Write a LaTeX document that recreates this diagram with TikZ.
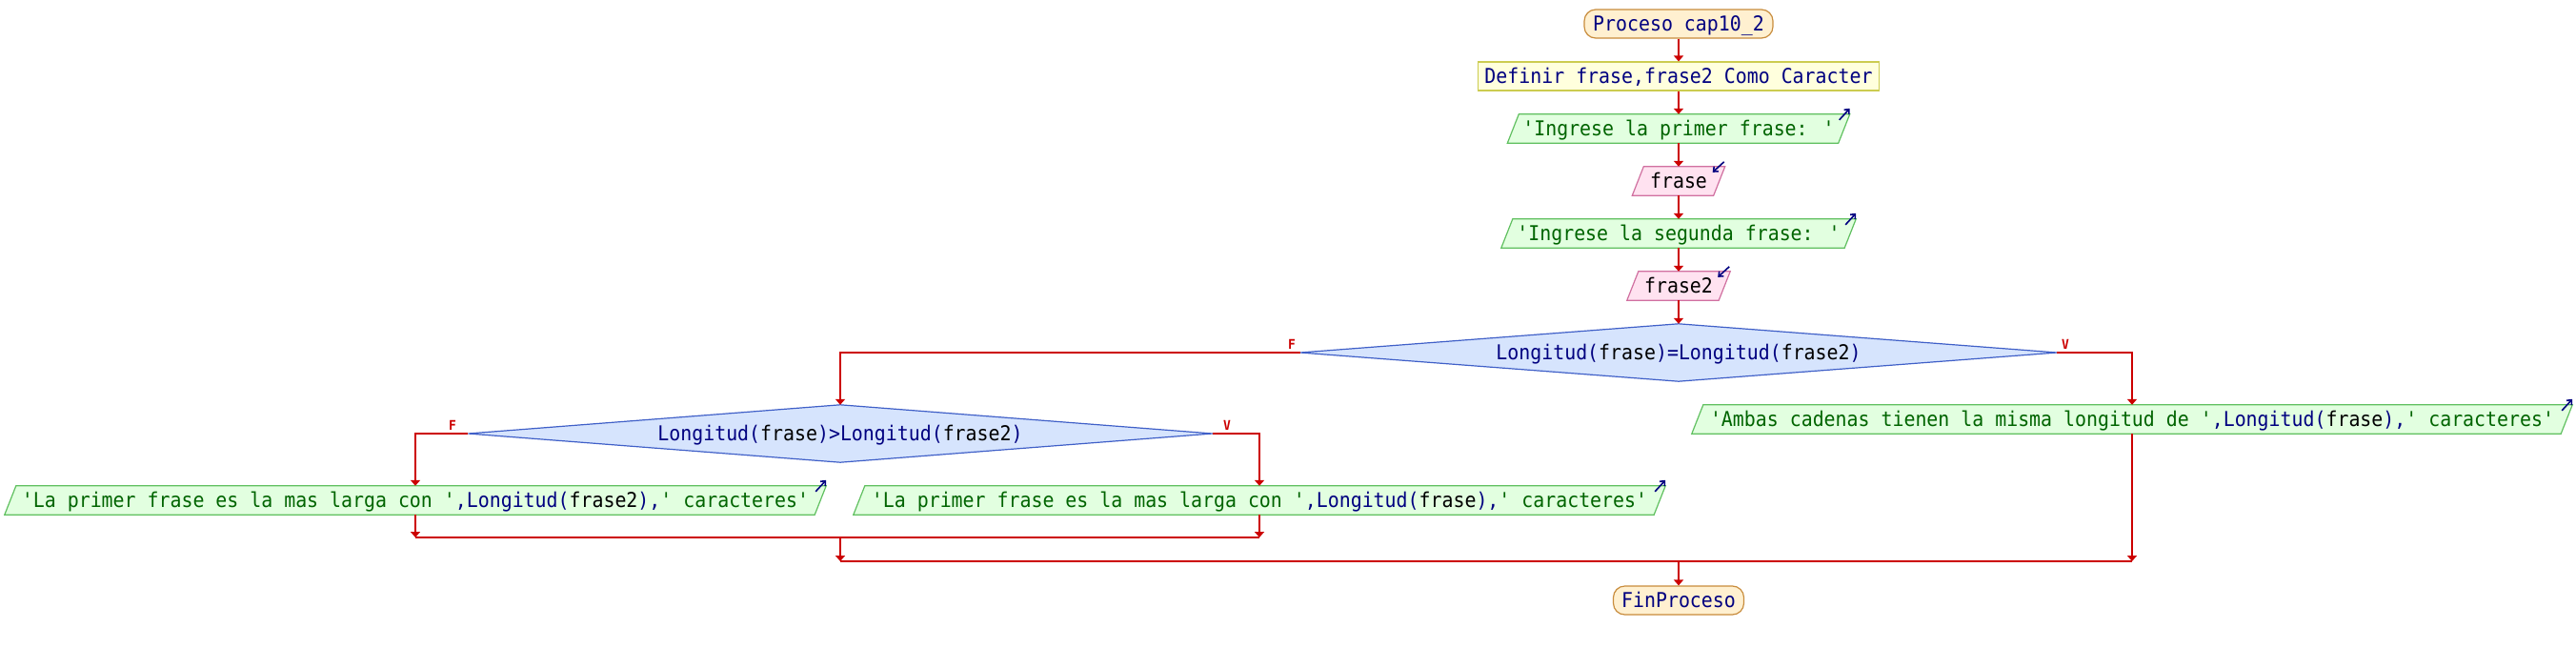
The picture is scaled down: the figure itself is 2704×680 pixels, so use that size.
\documentclass[tikz,border=0pt]{standalone}
\usepackage{fontspec}
\newfontfamily\pmono[FakeStretch=0.925]{DejaVu Sans Mono}
\usetikzlibrary{calc,arrows.meta,backgrounds}
\definecolor{cred}{RGB}{204,0,0}
\definecolor{cnavy}{RGB}{0,0,128}
\definecolor{cgreen}{RGB}{0,100,0}
\definecolor{termfill}{RGB}{255,240,208}
\definecolor{termdraw}{RGB}{200,140,60}
\definecolor{deffill}{RGB}{255,255,221}
\definecolor{defdraw}{RGB}{204,204,80}
\definecolor{outfill}{RGB}{226,255,224}
\definecolor{outdraw}{RGB}{96,192,96}
\definecolor{infill}{RGB}{255,226,240}
\definecolor{indraw}{RGB}{208,112,160}
\definecolor{decfill}{RGB}{214,228,253}
\definecolor{decdraw}{RGB}{64,96,200}
\newcommand\pkw[1]{\textcolor{cnavy}{#1}}
\newcommand\pstr[1]{\textcolor{cgreen}{#1}}
\newcommand\pvar[1]{\textcolor{black}{#1}}
\begin{document}
\begin{tikzpicture}[x=1pt,y=-1pt,
  every node/.style={font={\pmono\fontsize{21.5}{21.5}\selectfont}, inner sep=0pt, text height=16pt, text depth=2pt},
  box/.style={shape=rectangle, minimum height=30pt},
  term/.style={box, draw=termdraw, fill=termfill, rounded corners=12pt, line width=1.2pt},
  defbox/.style={box, draw=defdraw, fill=deffill, line width=1.2pt},
  outshape/.style={draw=outdraw, fill=outfill, line width=1.2pt},
  inshape/.style={draw=indraw, fill=infill, line width=1.2pt},
  decshape/.style={draw=decdraw, fill=decfill, line width=1.2pt},
  dec/.style={shape=rectangle, minimum height=60pt},
  flow/.style={draw=cred, line width=2pt, -{Triangle[width=10pt,length=6pt]}},
  link/.style={draw=cred, line width=2pt},
  icon/.style={draw=cnavy, line width=1.6pt, -{Straight Barb[width=7pt,length=4pt]}},
  lab/.style={text=cred, font={\pmono\bfseries\fontsize{14}{14}\selectfont}, text height=10pt, text depth=0pt}]

\useasboundingbox (0,0) rectangle (2704,680);

% nodes
\node[term, minimum width=198pt] (start) at (1762,25) {\pkw{Proceso cap10\_2}};
\node[defbox, minimum width=421pt] (def) at (1762,80) {\pkw{Definir frase,frase2 Como Caracter}};
\node[box, minimum width=359pt] (o1) at (1762,135) {\pstr{'Ingrese la primer frase: '}};
\node[box, minimum width=97pt] (i1) at (1762,190) {\pvar{frase}};
\node[box, minimum width=372pt] (o2) at (1762,245) {\pstr{'Ingrese la segunda frase: '}};
\node[box, minimum width=108pt] (i2) at (1762,300) {\pvar{frase2}};
\node[dec, minimum width=794pt] (d1) at (1762,370) {\pkw{Longitud(}\pvar{frase}\pkw{)=Longitud(}\pvar{frase2}\pkw{)}};
\node[dec, minimum width=781pt] (d2) at (882,455) {\pkw{Longitud(}\pvar{frase}\pkw{)>Longitud(}\pvar{frase2}\pkw{)}};
\node[box, minimum width=924pt] (oR) at (2238,440) {\pstr{'Ambas cadenas tienen la misma longitud de '}\pkw{,Longitud(}\pvar{frase}\pkw{),}\pstr{' caracteres'}};
\node[box, minimum width=862pt] (oL) at (436,525) {\pstr{'La primer frase es la mas larga con '}\pkw{,Longitud(}\pvar{frase2}\pkw{),}\pstr{' caracteres'}};
\node[box, minimum width=852pt] (oM) at (1322,525) {\pstr{'La primer frase es la mas larga con '}\pkw{,Longitud(}\pvar{frase}\pkw{),}\pstr{' caracteres'}};
\node[term, minimum width=137pt] (end) at (1762,630) {\pkw{FinProceso}};

% branch labels
\node[lab] (f1) at (1356,361) {F};
\node[lab] (v1) at (2168,361) {V};
\node[lab] (f2) at (475,446) {F};
\node[lab] (v2) at (1288,446) {V};

% shapes behind text
\begin{pgfonlayer}{background}
  \fill[white] (0,0) rectangle (2704,680);
  \foreach \n in {o1,o2,oR,oL,oM}
    \draw[outshape] (\n.south west) -- ($(\n.north west)+(12,0)$) -- (\n.north east) -- ($(\n.south east)+(-12,0)$) -- cycle;
  \foreach \n in {i1,i2}
    \draw[inshape] (\n.south west) -- ($(\n.north west)+(12,0)$) -- (\n.north east) -- ($(\n.south east)+(-12,0)$) -- cycle;
  \foreach \n in {d1,d2}
    \draw[decshape] (\n.west) -- (\n.north) -- (\n.east) -- (\n.south) -- cycle;
\end{pgfonlayer}

% io icons
\foreach \n in {o1,o2,oR,oL,oM}
  \draw[icon] ($(\n.north east)+(-11,6)$) -- ($(\n.north east)+(0,-6)$);
\foreach \n in {i1,i2}
  \draw[icon] ($(\n.north east)+(-1,-5)$) -- ($(\n.north east)+(-13,6)$);

% junction points
\coordinate (j1) at (882,564);
\coordinate (j2) at (1762,589);

% connectors
\draw[flow] (start.south) -- (def.north);
\draw[flow] (def.south) -- (o1.north);
\draw[flow] (o1.south) -- (i1.north);
\draw[flow] (i1.south) -- (o2.north);
\draw[flow] (o2.south) -- (i2.north);
\draw[flow] (i2.south) -- (d1.north);
\draw[flow] (d1.west) -| (d2.north);
\draw[flow] (d1.east) -| (oR.north);
\draw[flow] (d2.west) -| (oL.north);
\draw[flow] (d2.east) -| (oM.north);
\draw[link] (oL.south |- j1) -- (oM.south |- j1);
\draw[flow] (oL.south) -- (oL.south |- j1);
\draw[flow] (oM.south) -- (oM.south |- j1);
\draw[link] (j1 |- j2) -- (oR.south |- j2);
\draw[flow] (j1) -- (j1 |- j2);
\draw[flow] (oR.south) -- (oR.south |- j2);
\draw[flow] (j2) -- (end.north);
\end{tikzpicture}
\end{document}
